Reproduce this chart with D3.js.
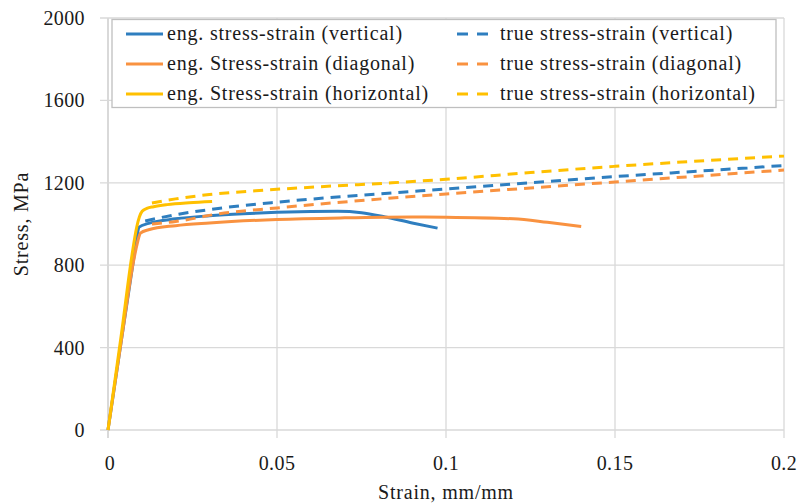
<!DOCTYPE html>
<html>
<head>
<meta charset="utf-8">
<script src="https://cdn.jsdelivr.net/npm/d3@7"></script>
<style>
  html, body { margin: 0; padding: 0; background: #fff; }
  svg text { font-family: "Liberation Serif", "DejaVu Serif", serif; fill: #1a1a1a; }
</style>
</head>
<body>
<svg id="chart" width="798" height="504"></svg>
<script>
// Axis ticks
const xTicks = [0, 0.05, 0.1, 0.15, 0.2];
const xTickLabels = ["0", "0.05", "0.1", "0.15", "0.2"];
const yTicks = [0, 400, 800, 1200, 1600, 2000];

// Engineering stress-strain, vertical specimen
const engVertStrain = [0, 0.004, 0.0075, 0.0085, 0.0092, 0.012, 0.02, 0.03, 0.04, 0.05, 0.06, 0.068, 0.075, 0.082, 0.09, 0.0975];
const engVertStress = [0, 440, 820, 930, 985, 1003, 1025, 1040, 1050, 1057, 1061, 1062, 1055, 1034, 1005, 980];

// Engineering stress-strain, diagonal specimen
const engDiagStrain = [0, 0.004, 0.0075, 0.0088, 0.0096, 0.012, 0.02, 0.03, 0.05, 0.07, 0.09, 0.1, 0.12, 0.13, 0.14];
const engDiagStress = [0, 440, 815, 915, 956, 972, 992, 1005, 1022, 1030, 1034, 1033, 1025, 1008, 988];

// Engineering stress-strain, horizontal specimen
const engHorStrain = [0, 0.004, 0.0071, 0.0085, 0.0093, 0.0101, 0.0115, 0.0135, 0.0175, 0.024, 0.0308];
const engHorStress = [0, 470, 850, 985, 1035, 1062, 1076, 1084, 1094, 1103, 1109];

// True stress-strain curves
const trueVertStrain = [0.011, 0.02, 0.03, 0.05, 0.075, 0.1, 0.125, 0.15, 0.175, 0.2];
const trueVertStress = [1015, 1045, 1070, 1106, 1140, 1170, 1200, 1230, 1257, 1284];

const trueDiagStrain = [0.013, 0.02, 0.033, 0.05, 0.084, 0.1, 0.125, 0.15, 0.175, 0.2];
const trueDiagStress = [1000, 1012, 1050, 1078, 1126, 1146, 1175, 1204, 1233, 1262];

const trueHorStrain = [0.013, 0.02, 0.03, 0.047, 0.065, 0.084, 0.1, 0.125, 0.15, 0.175, 0.2];
const trueHorStress = [1102, 1122, 1143, 1165, 1183, 1200, 1217, 1250, 1280, 1306, 1330];

const seriesNames = [
  "eng. stress-strain (vertical)",
  "eng. Stress-strain (diagonal)",
  "eng. Stress-strain (horizontal)",
  "true stress-strain (vertical)",
  "true stress-strain (diagonal)",
  "true stress-strain (horizontal)"
];
const seriesColors = ["#2e7ebf", "#f99240", "#ffc000", "#2e7ebf", "#f99240", "#ffc000"];

const series = [
  { x: engVertStrain, y: engVertStress, dashed: false },
  { x: engDiagStrain, y: engDiagStress, dashed: false },
  { x: engHorStrain, y: engHorStress, dashed: false },
  { x: trueVertStrain, y: trueVertStress, dashed: true },
  { x: trueDiagStrain, y: trueDiagStress, dashed: true },
  { x: trueHorStrain, y: trueHorStress, dashed: true }
].map((s, i) => ({
  name: seriesNames[i],
  color: seriesColors[i],
  dashed: s.dashed,
  points: s.x.map((v, j) => [v, s.y[j]])
}));

const svg = d3.select("#chart");
const margin = { left: 108, right: 14, top: 18, bottom: 74 };
const W = 798, H = 504;
const fontSize = 20;
const spacing = "0.8px";

const x = d3.scaleLinear().domain([0, 0.2]).range([margin.left, W - margin.right]);
const y = d3.scaleLinear().domain([0, 2000]).range([H - margin.bottom, margin.top]);

const grid = "#d9d9d9";

// Horizontal gridlines with outward tick stubs
svg.append("g").selectAll("line").data(yTicks).join("line")
  .attr("x1", x(0) - 8).attr("x2", x(0.2))
  .attr("y1", d => y(d)).attr("y2", d => y(d))
  .attr("stroke", grid).attr("stroke-width", 1.3);

// Vertical gridlines with tick stubs below the axis
svg.append("g").selectAll("line").data(xTicks).join("line")
  .attr("x1", d => x(d)).attr("x2", d => x(d))
  .attr("y1", y(2000)).attr("y2", y(0) + 8)
  .attr("stroke", grid).attr("stroke-width", d => d === 0 ? 2 : 1.3);

// Tick labels
svg.append("g").selectAll("text").data(yTicks).join("text")
  .attr("x", 85).attr("y", d => y(d) + 7)
  .attr("text-anchor", "end").attr("font-size", fontSize)
  .attr("letter-spacing", "0.4px")
  .text(d => d);

svg.append("g").selectAll("text").data(xTicks).join("text")
  .attr("x", d => x(d) + (d === 0 ? 2 : 0)).attr("y", 470)
  .attr("text-anchor", "middle").attr("font-size", fontSize)
  .attr("letter-spacing", "0.4px")
  .text((d, i) => xTickLabels[i]);

// Axis titles
svg.append("text")
  .attr("x", x(0.1)).attr("y", 499)
  .attr("text-anchor", "middle").attr("font-size", fontSize)
  .attr("letter-spacing", spacing)
  .text("Strain, mm/mm");

svg.append("text")
  .attr("transform", `translate(28, ${y(1000)}) rotate(-90)`)
  .attr("text-anchor", "middle").attr("font-size", fontSize)
  .attr("letter-spacing", spacing)
  .text("Stress, MPa");

// Curves
const line = d3.line()
  .x(d => x(d[0])).y(d => y(d[1]))
  .curve(d3.curveMonotoneX);

svg.append("g").selectAll("path").data(series).join("path")
  .attr("d", d => line(d.points))
  .attr("fill", "none")
  .attr("stroke", d => d.color)
  .attr("stroke-width", 3)
  .attr("stroke-dasharray", d => d.dashed ? "10,7" : null)
  .attr("stroke-linejoin", "round");

// Legend
const legend = svg.append("g");
legend.append("rect")
  .attr("x", 112).attr("y", 19.5).attr("width", 664).attr("height", 88)
  .attr("fill", "#fff").attr("stroke", "#bfbfbf").attr("stroke-width", 1.3);

const rowY = [34, 64, 94];
series.forEach((s, i) => {
  const col = i < 3 ? 0 : 1;
  const row = i % 3;
  const lx = col === 0 ? 126 : 457;
  const tx = col === 0 ? 167 : 500;
  legend.append("line")
    .attr("x1", lx).attr("x2", lx + 37)
    .attr("y1", rowY[row]).attr("y2", rowY[row])
    .attr("stroke", s.color).attr("stroke-width", 3)
    .attr("stroke-dasharray", s.dashed ? "11,9" : null);
  legend.append("text")
    .attr("x", tx).attr("y", rowY[row] + 6)
    .attr("font-size", fontSize)
    .attr("letter-spacing", spacing)
    .text(s.name);
});
</script>
</body>
</html>
